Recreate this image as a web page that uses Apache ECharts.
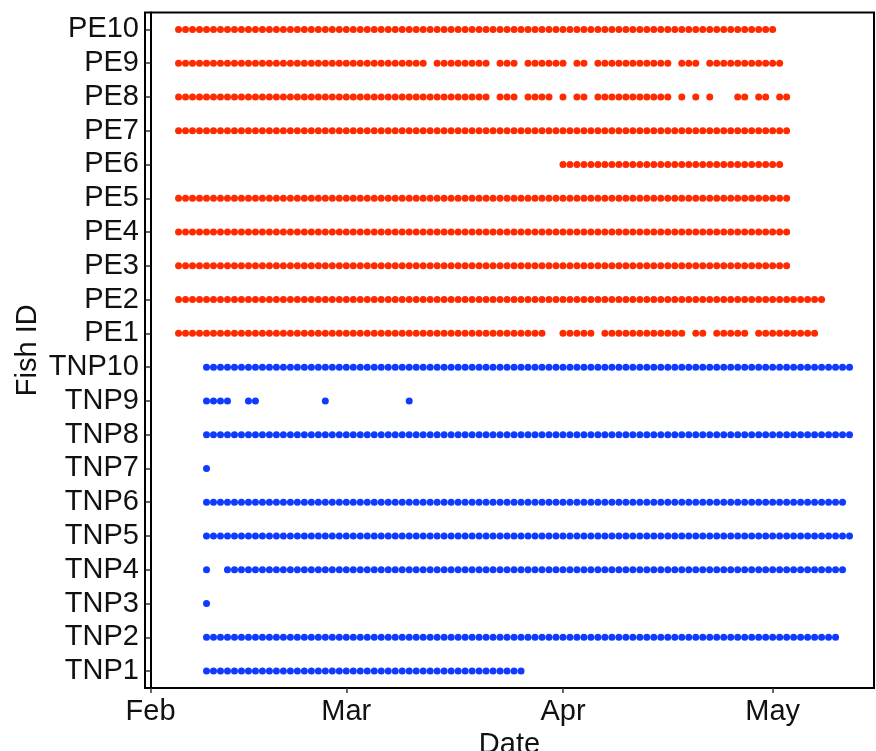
<!DOCTYPE html>
<html>
<head>
<meta charset="utf-8">
<title>Fish detections by date</title>
<script src="https://cdn.jsdelivr.net/npm/echarts@6/dist/echarts.min.js"></script>
<style>
  html, body { margin: 0; padding: 0; background: #ffffff; }
  #chart { width: 876px; height: 751px; }
</style>
</head>
<body>
<div id="chart"></div>
<script>
// Detection season (non-leap year); days are counted from 1 February.
const seasonYear = 2019;
const seasonStart = '02-01';

// Fish IDs from bottom to top of the y axis.
const fishIds = ['TNP1', 'TNP2', 'TNP3', 'TNP4', 'TNP5', 'TNP6', 'TNP7', 'TNP8', 'TNP9', 'TNP10',
                 'PE1', 'PE2', 'PE3', 'PE4', 'PE5', 'PE6', 'PE7', 'PE8', 'PE9', 'PE10'];

// Runs of consecutive days on which each fish was detected (first day, last day; MM-DD).
const detPE10 = [['02-05', '05-01']];
const detPE9 = [['02-05', '03-12'], ['03-14', '03-21'], ['03-23', '03-25'], ['03-27', '04-01'],
                ['04-03', '04-04'], ['04-06', '04-16'], ['04-18', '04-20'], ['04-22', '05-02']];
const detPE8 = [['02-05', '03-21'], ['03-23', '03-25'], ['03-27', '03-30'], ['04-01', '04-01'],
                ['04-03', '04-04'], ['04-06', '04-16'], ['04-18', '04-18'], ['04-20', '04-20'],
                ['04-22', '04-22'], ['04-26', '04-27'], ['04-29', '04-30'], ['05-02', '05-03']];
const detPE7 = [['02-05', '05-03']];
const detPE6 = [['04-01', '05-02']];
const detPE5 = [['02-05', '05-03']];
const detPE4 = [['02-05', '05-03']];
const detPE3 = [['02-05', '05-03']];
const detPE2 = [['02-05', '05-08']];
const detPE1 = [['02-05', '03-29'], ['04-01', '04-05'], ['04-07', '04-18'], ['04-20', '04-21'],
                ['04-23', '04-27'], ['04-29', '05-07']];
const detTNP10 = [['02-09', '05-12']];
const detTNP9 = [['02-09', '02-12'], ['02-15', '02-16'], ['02-26', '02-26'], ['03-10', '03-10']];
const detTNP8 = [['02-09', '05-12']];
const detTNP7 = [['02-09', '02-09']];
const detTNP6 = [['02-09', '05-11']];
const detTNP5 = [['02-09', '05-12']];
const detTNP4 = [['02-09', '02-09'], ['02-12', '05-11']];
const detTNP3 = [['02-09', '02-09']];
const detTNP2 = [['02-09', '05-10']];
const detTNP1 = [['02-09', '03-26']];

// Month tick positions and their labels.
const monthTicks = ['02-01', '03-01', '04-01', '05-01'];
const monthLabels = ['Feb', 'Mar', 'Apr', 'May'];

const detections = {
  PE10: detPE10, PE9: detPE9, PE8: detPE8, PE7: detPE7, PE6: detPE6,
  PE5: detPE5, PE4: detPE4, PE3: detPE3, PE2: detPE2, PE1: detPE1,
  TNP10: detTNP10, TNP9: detTNP9, TNP8: detTNP8, TNP7: detTNP7, TNP6: detTNP6,
  TNP5: detTNP5, TNP4: detTNP4, TNP3: detTNP3, TNP2: detTNP2, TNP1: detTNP1
};

const MS_PER_DAY = 86400000;
function toDay(mmdd) {
  const [m, d] = mmdd.split('-').map(Number);
  const [m0, d0] = seasonStart.split('-').map(Number);
  return Math.round((Date.UTC(seasonYear, m - 1, d) - Date.UTC(seasonYear, m0 - 1, d0)) / MS_PER_DAY);
}

// One point per detection day.
function pointsFor(group) {
  const pts = [];
  fishIds.filter(id => id.startsWith(group)).forEach(id => {
    detections[id].forEach(([from, to]) => {
      for (let day = toDay(from); day <= toDay(to); day++) pts.push([day, id]);
    });
  });
  return pts;
}

const tickDays = monthTicks.map(toDay);
const labelByDay = {};
tickDays.forEach((d, i) => { labelByDay[d] = monthLabels[i]; });

const FONT = '"Liberation Sans", Arial, sans-serif';
const chart = echarts.init(document.getElementById('chart'), null, { renderer: 'canvas' });

chart.setOption({
  animation: false,
  backgroundColor: '#ffffff',
  grid: {
    left: 145, right: 2, top: 12.5, bottom: 63,
    containLabel: false,
    outerBoundsMode: 'none',
    show: true, borderColor: '#000000', borderWidth: 2, backgroundColor: 'transparent'
  },
  xAxis: {
    type: 'value',
    min: -0.8,
    max: 103.5,
    name: 'Date',
    nameLocation: 'middle',
    nameGap: 42,
    nameMoveOverlap: false,
    nameTextStyle: { color: '#111111', fontSize: 29, fontFamily: FONT },
    splitLine: { show: false },
    axisLine: { show: true, onZero: false, lineStyle: { color: '#000000', width: 2 } },
    axisTick: { show: true, length: 5, lineStyle: { color: '#333333', width: 1.5 }, customValues: tickDays },
    axisLabel: {
      color: '#111111', fontSize: 29, fontFamily: FONT, margin: 9,
      customValues: tickDays,
      formatter: v => labelByDay[Math.round(v)] || ''
    }
  },
  yAxis: {
    type: 'category',
    data: fishIds,
    boundaryGap: true,
    name: 'Fish ID',
    nameLocation: 'middle',
    nameGap: 103,
    nameMoveOverlap: false,
    nameRotate: 90,
    nameTextStyle: { color: '#111111', fontSize: 29, fontFamily: FONT },
    splitLine: { show: false },
    axisLine: { show: true, lineStyle: { color: '#000000', width: 2 } },
    axisTick: { show: true, alignWithLabel: true, length: 5, lineStyle: { color: '#333333', width: 1.5 } },
    axisLabel: { color: '#111111', fontSize: 29, fontFamily: FONT, margin: 6, interval: 0 }
  },
  series: [
    {
      name: 'PE',
      type: 'scatter',
      symbol: 'circle',
      symbolSize: 7,
      itemStyle: { color: '#ff2a00', opacity: 1 },
      data: pointsFor('PE')
    },
    {
      name: 'TNP',
      type: 'scatter',
      symbol: 'circle',
      symbolSize: 7,
      itemStyle: { color: '#0f3bff', opacity: 1 },
      data: pointsFor('TNP')
    }
  ]
});
</script>
</body>
</html>
